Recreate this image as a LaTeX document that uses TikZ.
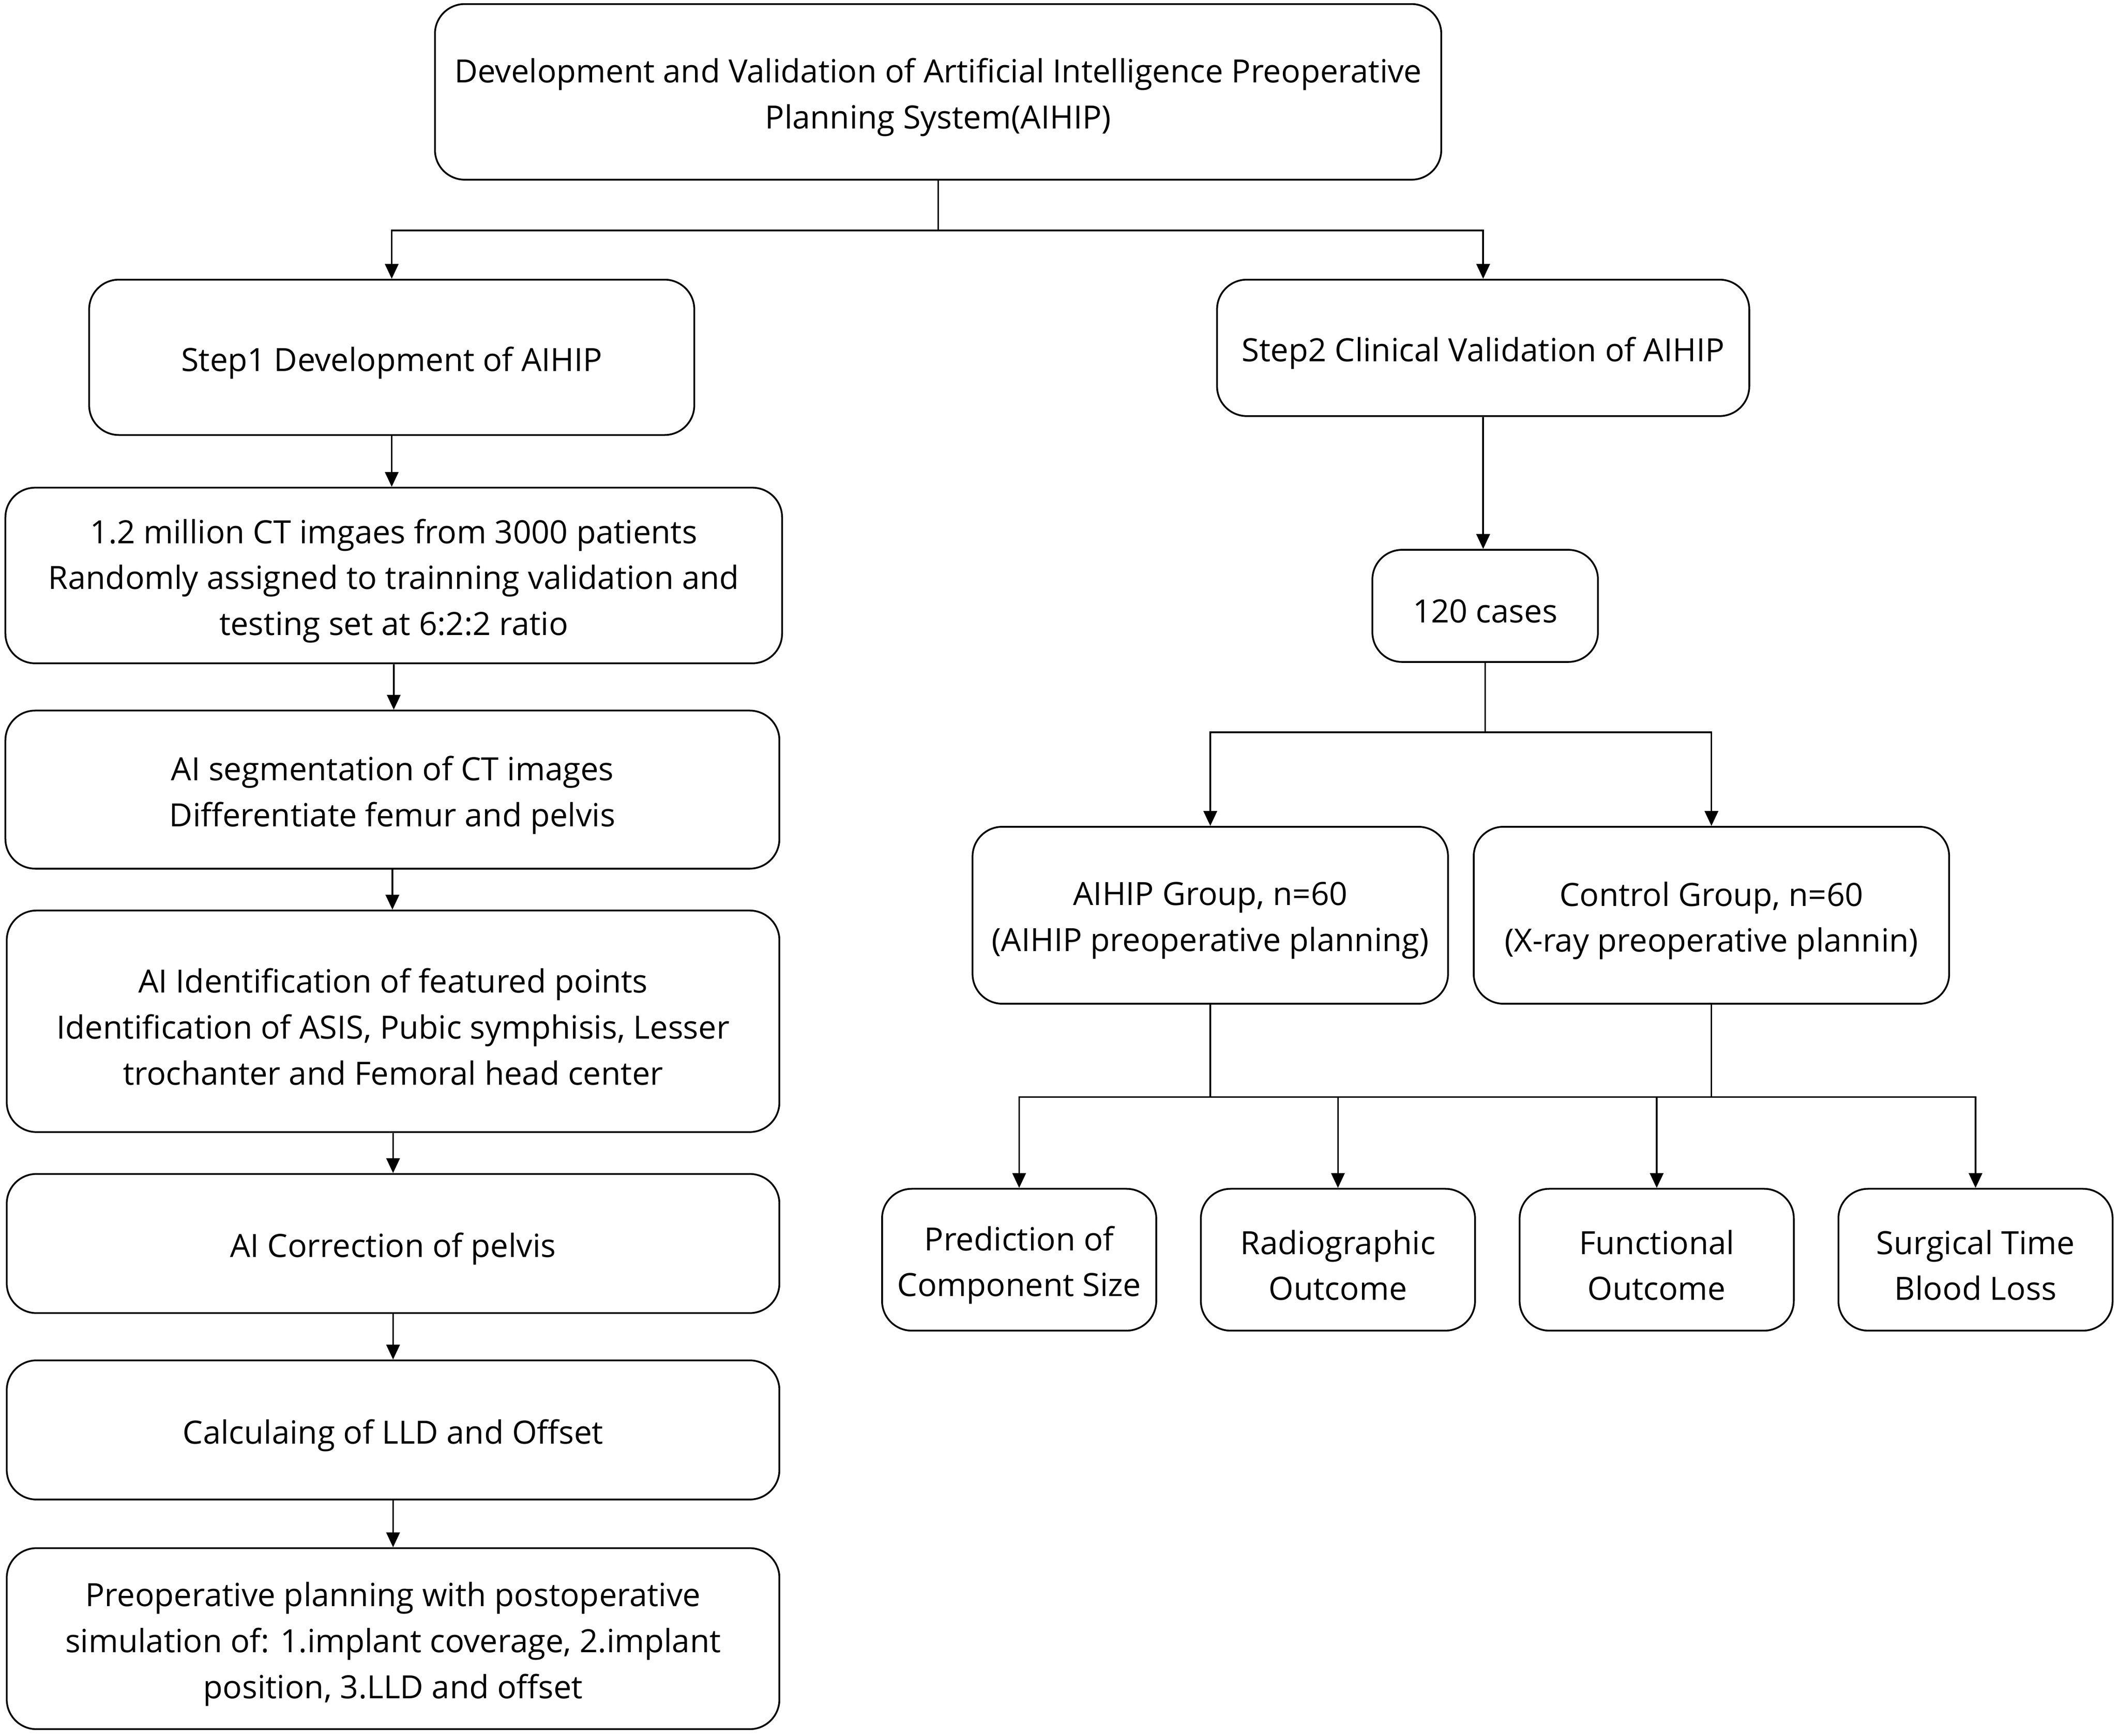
\documentclass[tikz,border=0pt]{standalone}
\usepackage{fontspec}
\setmainfont{Open Sans}
\usetikzlibrary{arrows.meta,calc}
\begin{document}
\begin{tikzpicture}[x=1pt,y=-1pt,
  txt/.style={align=center,inner sep=0pt,yshift=-4pt,font=\fontsize{23.7}{34}\selectfont},
  box/.style={draw=black,line width=1.3pt,rounded corners=22pt,inner sep=0pt,
    label={[txt]center:{#1}}},
  conn/.style={draw=black,line width=1.2pt},
  arr/.style={conn,-{Triangle[length=11pt,width=10pt]}}]
\useasboundingbox (0,0) rectangle (1568,1285);
\node[box={Development and Validation of Artificial Intelligence Preoperative\\Planning System(AIHIP)},minimum width=745pt,minimum height=130pt] (top) at (694.5,68) {};
\node[box={Step1 Development of AIHIP},minimum width=448pt,minimum height=115pt] (s1) at (290,264.5) {};
\node[box={Step2 Clinical Validation of AIHIP},minimum width=394pt,minimum height=101pt] (s2) at (1098,257.5) {};
\node[box={1.2 million CT imgaes from 3000 patients\\Randomly assigned to trainning validation and\\testing set at 6:2:2 ratio},minimum width=575pt,minimum height=130pt] (a) at (291.5,426) {};
\node[box={AI segmentation of CT images\\Differentiate femur and pelvis},minimum width=573pt,minimum height=117pt] (b) at (290.5,584.5) {};
\node[box={AI Identification of featured points\\Identification of ASIS, Pubic symphisis, Lesser\\trochanter and Femoral head center},minimum width=572pt,minimum height=164pt] (c) at (291,756) {};
\node[box={AI Correction of pelvis},minimum width=572pt,minimum height=103pt] (d) at (291,920.5) {};
\node[box={Calculaing of LLD and Offset},minimum width=572pt,minimum height=103pt] (e) at (291,1058.5) {};
\node[box={Preoperative planning with postoperative\\simulation of: 1.implant coverage, 2.implant\\position, 3.LLD and offset},minimum width=572pt,minimum height=134pt] (f) at (291,1213) {};
\node[box={120 cases},minimum width=167pt,minimum height=83pt] (cases) at (1099.5,448.5) {};
\node[box={AIHIP Group, n=60\\(AIHIP preoperative planning)},minimum width=352pt,minimum height=131pt] (g1) at (896,677.5) {};
\node[box={Control Group, n=60\\(X-ray preoperative plannin)},minimum width=352pt,minimum height=131pt] (g2) at (1267,677.5) {};
\node[box={Prediction of\\Component Size},minimum width=203pt,minimum height=105pt] (o1) at (754.5,932.5) {};
\node[box={Radiographic\\Outcome},minimum width=203pt,minimum height=105pt] (o2) at (990.5,932.5) {};
\node[box={Functional\\Outcome},minimum width=203pt,minimum height=105pt] (o3) at (1226.5,932.5) {};
\node[box={Surgical Time\\Blood Loss},minimum width=203pt,minimum height=105pt] (o4) at (1462.5,932.5) {};
% top branch
\coordinate (j1) at ($(top.south)+(0,37)$);
\draw[conn] (top.south) -- (j1);
\draw[arr] (j1) -| (s1.north);
\draw[arr] (j1) -| (s2.north);
% left column
\draw[arr] (s1.south) -- (s1.south |- a.north);
\draw[arr] (a.south) -- (a.south |- b.north);
\draw[arr] (b.south) -- (b.south |- c.north);
\draw[arr] (c.south) -- (c.south |- d.north);
\draw[arr] (d.south) -- (d.south |- e.north);
\draw[arr] (e.south) -- (e.south |- f.north);
% right
\draw[arr] (s2.south) -- (s2.south |- cases.north);
\coordinate (j2) at (cases.south |- 0,542);
\draw[conn] (cases.south) -- (j2);
\draw[arr] (j2) -| (g1.north);
\draw[arr] (j2) -| (g2.north);
\coordinate (j3) at (g1.south |- 0,812);
\coordinate (j4) at (g2.south |- 0,812);
\draw[conn] (g1.south) -- (j3);
\draw[conn] (g2.south) -- (j4);
\draw[conn] (j3) -- (j4);
\draw[arr] (j3) -| (o1.north);
\draw[arr] (j3) -| (o2.north);
\draw[arr] (j4) -| (o3.north);
\draw[arr] (j4) -| (o4.north);
\end{tikzpicture}
\end{document}
